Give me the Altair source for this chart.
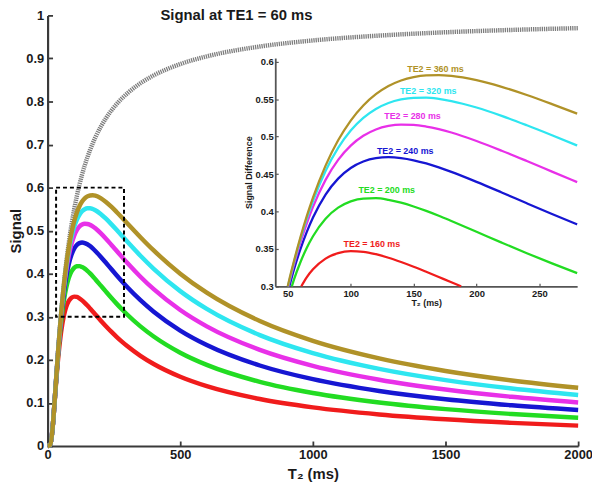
import altair as alt
import pandas as pd

FONT = "Liberation Sans"

# ---------------- data ----------------
T2 = [0, 10, 20, 25, 30, 40, 50, 55, 60, 65, 70, 80, 90, 100, 110, 120, 130, 140,
      150, 160, 170, 180, 200, 220, 240, 260, 280, 300, 350, 400, 500, 600, 800,
      1000, 1250, 1500, 1750, 2000]

signal_te1 = [0, 0.0025, 0.0498, 0.0907, 0.1353, 0.2231, 0.3012, 0.3359, 0.3679, 0.3973,
              0.4244, 0.4724, 0.5134, 0.5488, 0.5796, 0.6065, 0.6303, 0.6514, 0.6703, 0.6873,
              0.7026, 0.7165, 0.7408, 0.7613, 0.7788, 0.7939, 0.8071, 0.8187, 0.8425, 0.8607,
              0.8869, 0.9048, 0.9277, 0.9418, 0.9531, 0.9608, 0.9663, 0.9704]

diff_160 = [0, 0.0025, 0.0495, 0.0891, 0.1305, 0.2048, 0.2604, 0.2814, 0.2984, 0.3120,
            0.3227, 0.3370, 0.3444, 0.3469, 0.3461, 0.3429, 0.3382, 0.3325, 0.3262, 0.3194,
            0.3124, 0.3054, 0.2915, 0.2781, 0.2654, 0.2535, 0.2424, 0.2321, 0.2094, 0.1904,
            0.1608, 0.1389, 0.1090, 0.0896, 0.0733, 0.0620, 0.0537, 0.0473]
diff_200 = [0, 0.0025, 0.0497, 0.0904, 0.1341, 0.2164, 0.2829, 0.3096, 0.3322, 0.3512,
            0.3669, 0.3903, 0.4051, 0.4135, 0.4173, 0.4177, 0.4156, 0.4118, 0.4067, 0.4008,
            0.3943, 0.3873, 0.3729, 0.3584, 0.3442, 0.3306, 0.3176, 0.3053, 0.2777, 0.2542,
            0.2166, 0.1883, 0.1489, 0.1230, 0.1010, 0.0856, 0.0743, 0.0656]
diff_240 = [0, 0.0025, 0.0498, 0.0907, 0.1350, 0.2207, 0.2930, 0.3232, 0.3496, 0.3724,
            0.3919, 0.4226, 0.4439, 0.4581, 0.4667, 0.4712, 0.4725, 0.4713, 0.4684, 0.4642,
            0.4589, 0.4529, 0.4396, 0.4254, 0.4109, 0.3966, 0.3827, 0.3694, 0.3387, 0.3119,
            0.2681, 0.2345, 0.1869, 0.1551, 0.1278, 0.1086, 0.0945, 0.0835]
diff_280 = [0, 0.0025, 0.0498, 0.0907, 0.1353, 0.2222, 0.2975, 0.3298, 0.3585, 0.3838,
            0.4061, 0.4422, 0.4689, 0.4880, 0.5011, 0.5096, 0.5143, 0.5161, 0.5157, 0.5135,
            0.5100, 0.5055, 0.4942, 0.4812, 0.4674, 0.4533, 0.4392, 0.4255, 0.3931, 0.3641,
            0.3157, 0.2777, 0.2231, 0.1860, 0.1538, 0.1311, 0.1142, 0.1011]
diff_320 = [0, 0.0025, 0.0498, 0.0907, 0.1353, 0.2228, 0.2995, 0.3329, 0.3631, 0.3900,
            0.4140, 0.4541, 0.4849, 0.5081, 0.5251, 0.5370, 0.5450, 0.5497, 0.5519, 0.5520,
            0.5504, 0.5475, 0.5389, 0.5278, 0.5152, 0.5019, 0.4882, 0.4746, 0.4417, 0.4114,
            0.3596, 0.3182, 0.2574, 0.2156, 0.1790, 0.1529, 0.1334, 0.1183]
diff_360 = [0, 0.0025, 0.0498, 0.0907, 0.1353, 0.2230, 0.3004, 0.3345, 0.3654, 0.3934,
            0.4185, 0.4613, 0.4951, 0.5215, 0.5417, 0.5567, 0.5676, 0.5750, 0.5796, 0.5819,
            0.5823, 0.5812, 0.5755, 0.5666, 0.5557, 0.5435, 0.5307, 0.5175, 0.4849, 0.4541,
            0.4002, 0.3560, 0.2901, 0.2441, 0.2034, 0.1742, 0.1522, 0.1352]

TE2_LABELS = ["TE2 = 160 ms", "TE2 = 200 ms", "TE2 = 240 ms",
              "TE2 = 280 ms", "TE2 = 320 ms", "TE2 = 360 ms"]
COLORS = ["#f01c1c", "#22dc22", "#1616d2", "#e830e8", "#2ee6f0", "#b09228"]
SERIES = [diff_160, diff_200, diff_240, diff_280, diff_320, diff_360]

# where each curve enters / leaves the inset window (signal difference = 0.3)
inset_enter_T2 = [60.7, 53.2, 51.2, 50.4, 50.1, 49.95]
inset_leave_T2 = [187.8, None, None, None, None, None]

# curve labels in the inset
label_T2 = [116.8, 128.6, 143.3, 149.1, 161.6, 167.4]
label_sig = [0.3563, 0.4287, 0.4814, 0.5275, 0.561, 0.591]

# dashed zoom box on the main plot
box_T2 = [32, 288]
box_sig = [0.3, 0.6]

main_title = "Signal at TE1 = 60 ms"
title_T2, title_sig = 712, 1.0

main_x_ticks = [0, 500, 1000, 1500, 2000]
main_y_ticks = [0, 0.1, 0.2, 0.3, 0.4, 0.5, 0.6, 0.7, 0.8, 0.9, 1.0]
inset_x_ticks = [50, 100, 150, 200, 250]
inset_y_ticks = [0.3, 0.35, 0.4, 0.45, 0.5, 0.55, 0.6]

# ---------------- layout ----------------
W, H = 536, 435
IN_X0, IN_X1 = 230, 535
IN_Y0 = round(275 * H / 437, 1)
IN_Y1 = round(43.3 * H / 437, 1)

# ---------------- tables ----------------
gray_df = pd.DataFrame({"T2": T2, "S": signal_te1})

rows = []
for lab, vals in zip(TE2_LABELS, SERIES):
    for t, v in zip(T2, vals):
        rows.append({"T2": t, "S": v, "TE2": lab})
main_df = pd.DataFrame(rows)

irows = []
for lab, vals, t0, t1 in zip(TE2_LABELS, SERIES, inset_enter_T2, inset_leave_T2):
    irows.append({"T2": t0, "S": 0.3, "TE2": lab})
    for t, v in zip(T2, vals):
        if 40 <= t <= 280 and v >= 0.3 and (t1 is None or t < t1):
            irows.append({"T2": t, "S": v, "TE2": lab})
    if t1 is not None:
        irows.append({"T2": t1, "S": 0.3, "TE2": lab})
inset_df = pd.DataFrame(irows)

lbl_df = pd.DataFrame({"T2": label_T2, "S": label_sig, "TE2": TE2_LABELS})
box_df = pd.DataFrame({"x1": [box_T2[0]], "x2": [box_T2[1]], "y1": [box_sig[0]], "y2": [box_sig[1]]})
title_df = pd.DataFrame({"T2": [title_T2], "S": [title_sig], "t": [main_title]})

# ---------------- scales ----------------
xs_main = alt.Scale(domain=[0, 2000], nice=False, zero=False)
ys_main = alt.Scale(domain=[0, 1], nice=False, zero=False)
xs_in = alt.Scale(domain=[40, 280], range=[IN_X0, IN_X1], nice=False, zero=False)
ys_in = alt.Scale(domain=[0.3, 0.605], range=[IN_Y0, IN_Y1], nice=False, zero=False)
color = alt.Color("TE2:N", scale=alt.Scale(domain=TE2_LABELS, range=COLORS), legend=None)

AX = "#3a3a3a"
TXT = "#1a1a1a"

ax_main_x = alt.Axis(orient="bottom", values=main_x_ticks, format="d", grid=False,
                     tickSize=0, domainColor=AX, domainWidth=2.2, labelFont=FONT,
                     labelFontSize=13, labelFontWeight="bold", labelColor=TXT,
                     labelPadding=3, labelFlush=False, labelOverlap=False,
                     title="T\u2082 (ms)", titleFont=FONT, titleFontSize=15,
                     titleFontWeight="bold", titleColor=TXT, titlePadding=5)
ax_main_y = alt.Axis(orient="left", values=main_y_ticks, format="~g", grid=False,
                     tickSize=0, domainColor=AX, domainWidth=2.2, labelFont=FONT,
                     labelFontSize=13, labelFontWeight="bold", labelColor=TXT,
                     labelPadding=4, labelFlush=False, labelOverlap=False,
                     title="Signal", titleFont=FONT, titleFontSize=15,
                     titleFontWeight="bold", titleColor=TXT, titlePadding=2)
ax_main_xt = alt.Axis(orient="top", offset=-H, values=main_x_ticks, labels=False,
                      domain=False, grid=False, tickSize=5, tickWidth=1.8, tickColor=AX, title=None)
ax_main_yt = alt.Axis(orient="right", offset=-W, values=main_y_ticks, labels=False,
                      domain=False, grid=False, tickSize=5, tickWidth=1.8, tickColor=AX, title=None)

ax_in_x = alt.Axis(orient="bottom", offset=IN_Y0 - H, values=inset_x_ticks, format="d",
                   grid=False, tickSize=0, domainColor="#555555", domainWidth=1.8,
                   labelFont=FONT, labelFontSize=9.5, labelFontWeight="bold", labelColor=TXT,
                   labelPadding=2, labelFlush=False, labelOverlap=False,
                   title="T\u2082 (ms)", titleFont=FONT, titleFontSize=9,
                   titleFontWeight="bold", titleColor=TXT, titlePadding=1)
ax_in_y = alt.Axis(orient="left", offset=-IN_X0, values=inset_y_ticks, format="~g",
                   grid=False, tickSize=0, domainColor="#555555", domainWidth=1.8,
                   labelFont=FONT, labelFontSize=9.5, labelFontWeight="bold", labelColor=TXT,
                   labelPadding=2, labelFlush=False, labelOverlap=False,
                   title="Signal Difference", titleFont=FONT, titleFontSize=9,
                   titleFontWeight="bold", titleColor=TXT, titlePadding=2)
ax_in_xt = alt.Axis(orient="top", offset=-IN_Y0, values=inset_x_ticks, labels=False,
                    domain=False, grid=False, tickSize=3, tickWidth=1.2, tickColor="#555555", title=None)
ax_in_yt = alt.Axis(orient="right", offset=-(W - IN_X0), values=inset_y_ticks, labels=False,
                    domain=False, grid=False, tickSize=3, tickWidth=1.2, tickColor="#555555", title=None)

# ---------------- layers ----------------
gray_layer = alt.Chart(gray_df).mark_line(
    color="#7d7d7d", strokeWidth=4.5, strokeDash=[1.3, 0.9], interpolate="monotone"
).encode(
    x=alt.X("T2:Q", scale=xs_main, axis=ax_main_xt),
    y=alt.Y("S:Q", scale=ys_main, axis=ax_main_yt),
)

main_lines = alt.Chart(main_df).mark_line(strokeWidth=4.5, interpolate="monotone").encode(
    x=alt.X("T2:Q", scale=xs_main, axis=ax_main_x),
    y=alt.Y("S:Q", scale=ys_main, axis=ax_main_y),
    color=color,
)

box_layer = alt.Chart(box_df).mark_rect(
    filled=False, color="black", strokeDash=[4, 3], strokeWidth=2
).encode(
    x=alt.X("x1:Q", scale=xs_main, axis=None),
    x2="x2:Q",
    y=alt.Y("y1:Q", scale=ys_main, axis=None),
    y2="y2:Q",
)

title_layer = alt.Chart(title_df).mark_text(
    font=FONT, fontSize=15, fontWeight="bold", color=TXT, baseline="middle", align="center"
).encode(
    x=alt.X("T2:Q", scale=xs_main, axis=None),
    y=alt.Y("S:Q", scale=ys_main, axis=None),
    text="t:N",
)

inset_lines = alt.Chart(inset_df).mark_line(strokeWidth=2.3, interpolate="monotone").encode(
    x=alt.X("T2:Q", scale=xs_in, axis=ax_in_x),
    y=alt.Y("S:Q", scale=ys_in, axis=ax_in_y),
    color=color,
)

inset_labels = alt.Chart(lbl_df).mark_text(
    font=FONT, fontSize=9, fontWeight="bold", baseline="middle", align="center"
).encode(
    x=alt.X("T2:Q", scale=xs_in, axis=ax_in_xt),
    y=alt.Y("S:Q", scale=ys_in, axis=ax_in_yt),
    text="TE2:N",
    color=color,
)

chart = alt.layer(
    gray_layer, main_lines, box_layer, title_layer, inset_lines, inset_labels
).resolve_scale(
    x="independent", y="independent"
).properties(
    width=W, height=H,
    autosize=alt.AutoSizeParams(type="none"),
    padding={"left": 40, "top": 5, "right": 14, "bottom": 41},
    background="white",
).configure_view(stroke=None)

chart.save("out.html", embed_options={"renderer": "svg", "actions": False})
